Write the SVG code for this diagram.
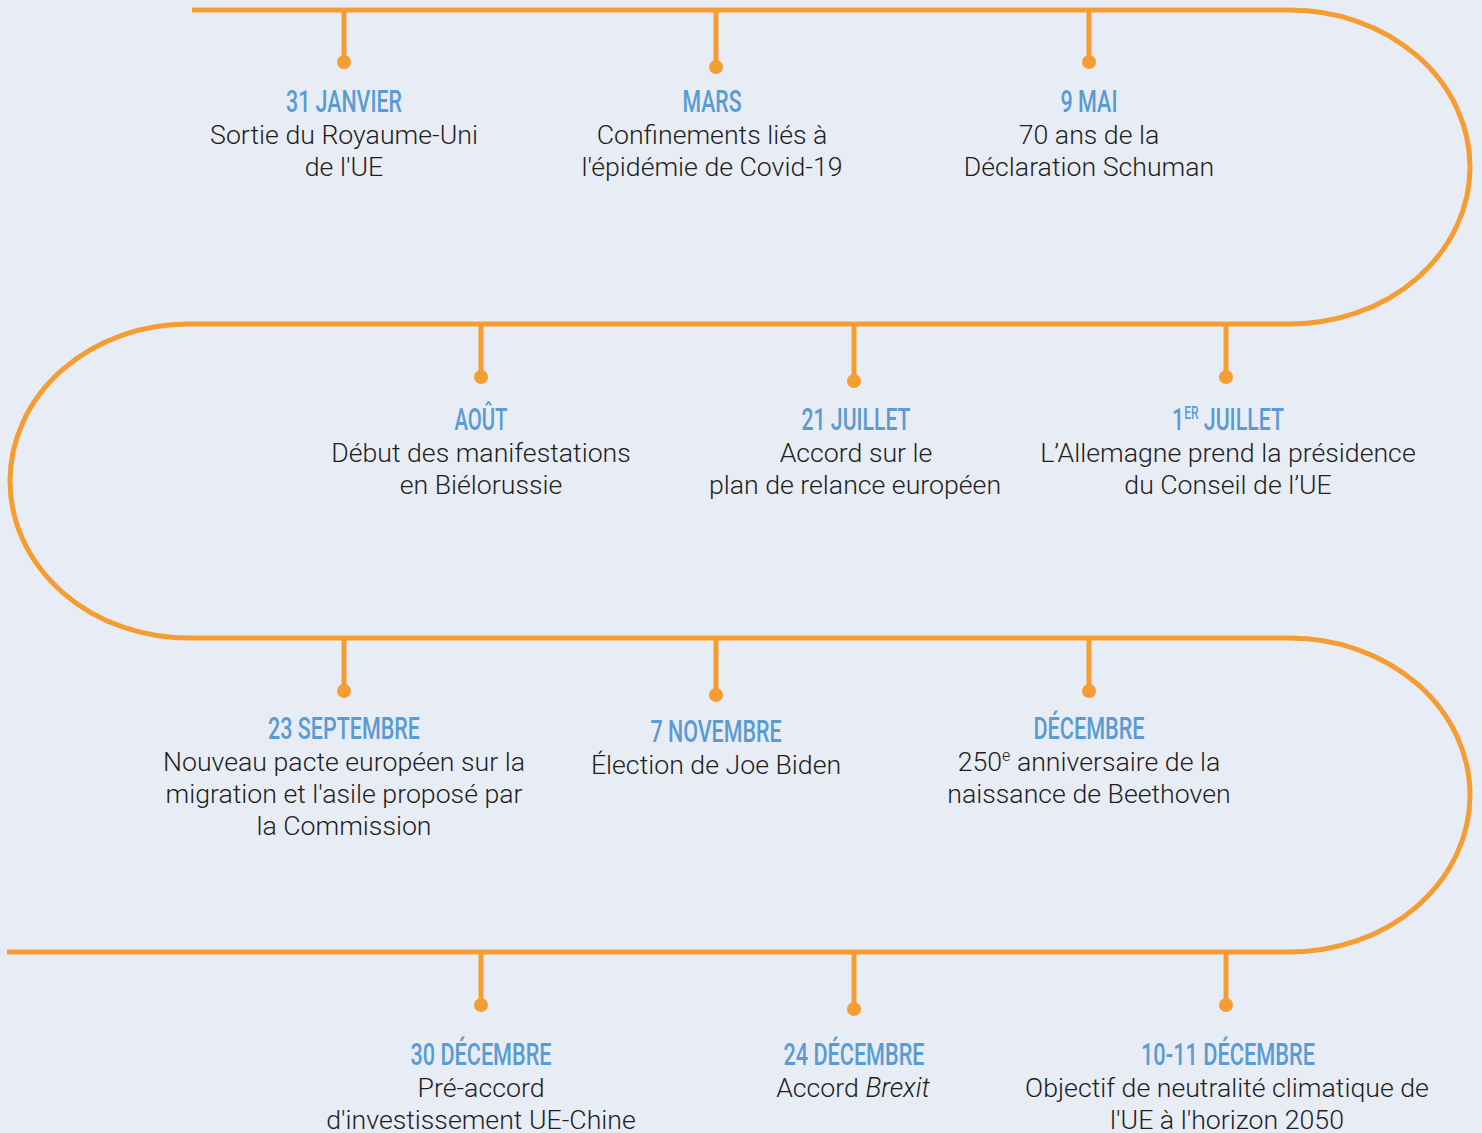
<svg xmlns="http://www.w3.org/2000/svg" width="1482" height="1133" viewBox="0 0 1482 1133">
<style>
.bg{fill:#e8edf5}
.path{fill:none;stroke:#f59d33;stroke-width:5}
.tick{stroke:#f59d33;stroke-width:5}
.dot{fill:#f59d33}
.h{font-family:Roboto,"Liberation Sans",sans-serif;font-weight:500;font-size:32px;fill:#5a9bd3;text-anchor:middle}
.b{font-family:Roboto,"Liberation Sans",sans-serif;font-weight:300;font-size:26.7px;fill:#1e1e1e;text-anchor:middle}
</style>
<rect class="bg" x="0" y="0" width="1482" height="1133"/>
<g id="connectors">
<path class="path" d="M192,10 H1290 A180,157 0 0 1 1290,324 H188 A178,157 0 0 0 188,638 H1290 A180,157 0 0 1 1290,952 H7"/>
</g>
<g id="n1"><line class="tick" x1="344" y1="10" x2="344" y2="62"/><circle class="dot" cx="344" cy="62" r="7"/>
<text class="h" x="344" y="112" textLength="116" lengthAdjust="spacingAndGlyphs">31 JANVIER</text>
<text class="b" x="344" y="144">Sortie du Royaume-Uni</text><text class="b" x="344" y="176">de l'UE</text></g>
<g id="n2"><line class="tick" x1="716" y1="10" x2="716" y2="67"/><circle class="dot" cx="716" cy="67" r="7"/>
<text class="h" x="712" y="112" textLength="59" lengthAdjust="spacingAndGlyphs">MARS</text>
<text class="b" x="712" y="144">Confinements liés à</text><text class="b" x="712" y="176">l'épidémie de Covid-19</text></g>
<g id="n3"><line class="tick" x1="1089" y1="10" x2="1089" y2="62"/><circle class="dot" cx="1089" cy="62" r="7"/>
<text class="h" x="1089" y="112" textLength="57" lengthAdjust="spacingAndGlyphs">9 MAI</text>
<text class="b" x="1089" y="144">70 ans de la</text><text class="b" x="1089" y="176">Déclaration Schuman</text></g>
<g id="n4"><line class="tick" x1="1226" y1="324" x2="1226" y2="377"/><circle class="dot" cx="1226" cy="377" r="7"/>
<text class="h" x="1228" y="430" textLength="112" lengthAdjust="spacingAndGlyphs">1<tspan font-size="18" dy="-11">ER</tspan><tspan dy="11"> JUILLET</tspan></text>
<text class="b" x="1228" y="462">L’Allemagne prend la présidence</text><text class="b" x="1228" y="494">du Conseil de l’UE</text></g>
<g id="n5"><line class="tick" x1="854" y1="324" x2="854" y2="381"/><circle class="dot" cx="854" cy="381" r="7"/>
<text class="h" x="856" y="430" textLength="109" lengthAdjust="spacingAndGlyphs">21 JUILLET</text>
<text class="b" x="856" y="462">Accord sur le</text><text class="b" x="855" y="494">plan de relance européen</text></g>
<g id="n6"><line class="tick" x1="481" y1="324" x2="481" y2="377"/><circle class="dot" cx="481" cy="377" r="7"/>
<text class="h" x="481" y="430" textLength="53" lengthAdjust="spacingAndGlyphs">AOÛT</text>
<text class="b" x="481" y="462">Début des manifestations</text><text class="b" x="481" y="494">en Biélorussie</text></g>
<g id="n7"><line class="tick" x1="344" y1="638" x2="344" y2="691"/><circle class="dot" cx="344" cy="691" r="7"/>
<text class="h" x="344" y="739" textLength="152" lengthAdjust="spacingAndGlyphs">23 SEPTEMBRE</text>
<text class="b" x="344" y="771">Nouveau pacte européen sur la</text><text class="b" x="344" y="803">migration et l'asile proposé par</text><text class="b" x="344" y="835">la Commission</text></g>
<g id="n8"><line class="tick" x1="716" y1="638" x2="716" y2="695"/><circle class="dot" cx="716" cy="695" r="7"/>
<text class="h" x="716" y="742" textLength="131" lengthAdjust="spacingAndGlyphs">7 NOVEMBRE</text>
<text class="b" x="716" y="774">Élection de Joe Biden</text></g>
<g id="n9"><line class="tick" x1="1089" y1="638" x2="1089" y2="691"/><circle class="dot" cx="1089" cy="691" r="7"/>
<text class="h" x="1089" y="739" textLength="111" lengthAdjust="spacingAndGlyphs">DÉCEMBRE</text>
<text class="b" x="1089" y="771">250<tspan font-size="16" dy="-10">e</tspan><tspan dy="10"> anniversaire de la</tspan></text><text class="b" x="1089" y="803">naissance de Beethoven</text></g>
<g id="n10"><line class="tick" x1="1226" y1="952" x2="1226" y2="1005"/><circle class="dot" cx="1226" cy="1005" r="7"/>
<text class="h" x="1228" y="1065" textLength="174" lengthAdjust="spacingAndGlyphs">10-11 DÉCEMBRE</text>
<text class="b" x="1227" y="1097">Objectif de neutralité climatique de</text><text class="b" x="1227" y="1129">l'UE à l'horizon 2050</text></g>
<g id="n11"><line class="tick" x1="854" y1="952" x2="854" y2="1009"/><circle class="dot" cx="854" cy="1009" r="7"/>
<text class="h" x="854" y="1065" textLength="141" lengthAdjust="spacingAndGlyphs">24 DÉCEMBRE</text>
<text class="b" x="853" y="1097">Accord <tspan font-style="italic">Brexit</tspan></text></g>
<g id="n12"><line class="tick" x1="481" y1="952" x2="481" y2="1005"/><circle class="dot" cx="481" cy="1005" r="7"/>
<text class="h" x="481" y="1065" textLength="141" lengthAdjust="spacingAndGlyphs">30 DÉCEMBRE</text>
<text class="b" x="481" y="1097">Pré-accord</text><text class="b" x="481" y="1129">d'investissement UE-Chine</text></g>
</svg>
